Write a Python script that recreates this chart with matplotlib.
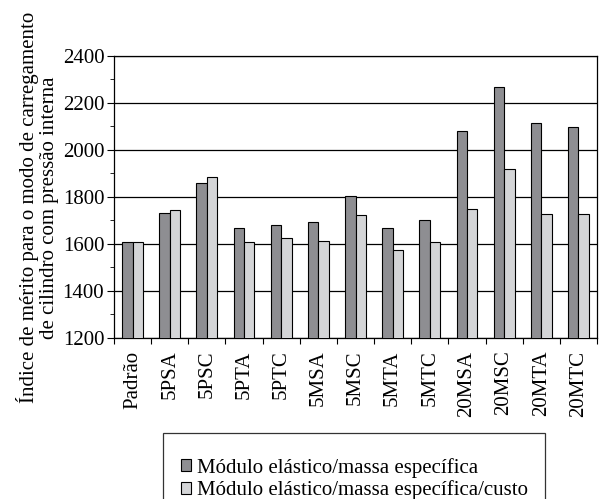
import matplotlib.pyplot as plt
import numpy as np
from matplotlib.ticker import MultipleLocator

categories = ["Padrão", "5PSA", "5PSC", "5PTA", "5PTC", "5MSA", "5MSC",
              "5MTA", "5MTC", "20MSA", "20MSC", "20MTA", "20MTC"]
modulo_massa = [1606, 1730, 1858, 1666, 1679, 1693, 1802,
                1667, 1701, 2081, 2268, 2115, 2096]
modulo_massa_custo = [1606, 1745, 1884, 1606, 1626, 1612, 1721,
                      1574, 1609, 1747, 1917, 1728, 1728]
series_names = ["Módulo elástico/massa específica",
                "Módulo elástico/massa específica/custo"]

plt.rcParams['font.family'] = 'Liberation Serif'
FS = 15

fig = plt.figure(figsize=(6.0, 4.99), dpi=100)
ax = fig.add_axes([0.19, 0.3226, 0.805, 0.566])

x = np.arange(len(categories))
w = 0.28
ax.bar(x - w / 2, modulo_massa, w, color="#8e8e92", edgecolor="black",
       linewidth=0.8, label=series_names[0], zorder=3)
ax.bar(x + w / 2, modulo_massa_custo, w, color="#d4d5d7", edgecolor="black",
       linewidth=0.8, label=series_names[1], zorder=3)

ax.set_ylim(1200, 2400)
ax.set_xlim(-0.5, len(categories) - 0.5)
ax.yaxis.set_major_locator(MultipleLocator(200))
ax.yaxis.set_minor_locator(MultipleLocator(100))
ax.grid(axis="y", color="black", linewidth=0.9, zorder=0)

# group separators as major ticks, names on minor ticks
ax.set_xticks(np.arange(len(categories) + 1) - 0.5)
ax.set_xticklabels([])
ax.set_xticks(x, minor=True)
ax.set_xticklabels(categories, minor=True, rotation=90, fontsize=FS)
ax.tick_params(axis="x", which="minor", length=0, pad=9)
ax.tick_params(axis="x", which="major", direction="out", length=4)
ax.tick_params(axis="y", which="both", direction="out", labelsize=FS, pad=2)
ax.tick_params(axis="y", which="major", length=5)
ax.tick_params(axis="y", which="minor", length=3)

for s in ax.spines.values():
    s.set_linewidth(0.9)

fig.text(0.063, 0.584,
         "Índice de mérito para o modo de carregamento\nde cilindro com pressão interna",
         rotation=90, ha="center", va="center", fontsize=FS, linespacing=1.05)

leg = fig.legend(loc="upper left", bbox_to_anchor=(0.272, 0.132), fontsize=FS,
                 frameon=True, fancybox=False, edgecolor="black",
                 handlelength=0.5, handleheight=0.5, handletextpad=0.25,
                 borderpad=0.85, labelspacing=0.14, borderaxespad=0,
                 title=" ", title_fontsize=2)
leg.get_frame().set_linewidth(0.9)

fig.savefig("out.png", dpi=100)
